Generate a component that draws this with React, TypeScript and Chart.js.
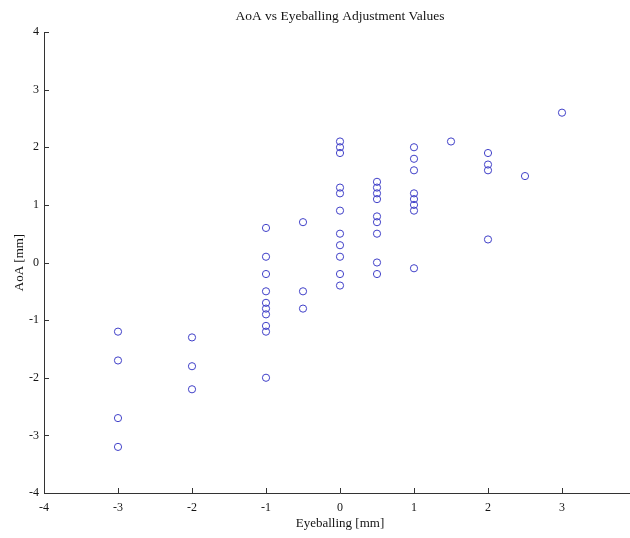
import { useEffect, useRef } from "react";
import { Chart, registerables } from "chart.js";

Chart.register(...registerables);

const chartTitle = "AoA vs Eyeballing Adjustment Values";
const xAxisTitle = "Eyeballing [mm]";
const yAxisTitle = "AoA [mm]";

const axisMin = -4;
const axisMax = 4;
const axisStep = 1;

// Eyeballing adjustment (x) and AoA adjustment (y), one entry per measurement
const eyeballing = [
  -3, -3, -3, -3,
  -2, -2, -2,
  -1, -1, -1, -1, -1, -1, -1, -1, -1, -1,
  -0.5, -0.5, -0.5,
  0, 0, 0, 0, 0, 0, 0, 0, 0, 0, 0,
  0.5, 0.5, 0.5, 0.5, 0.5, 0.5, 0.5, 0.5, 0.5,
  1, 1, 1, 1, 1, 1, 1, 1,
  1.5,
  2, 2, 2, 2,
  2.5,
  3,
];

const aoa = [
  -1.2, -1.7, -2.7, -3.2,
  -1.3, -1.8, -2.2,
  0.6, 0.1, -0.2, -0.5, -0.7, -0.8, -0.9, -1.1, -1.2, -2.0,
  0.7, -0.5, -0.8,
  2.1, 2.0, 1.9, 1.3, 1.2, 0.9, 0.5, 0.3, 0.1, -0.2, -0.4,
  1.4, 1.3, 1.2, 1.1, 0.8, 0.7, 0.5, 0.0, -0.2,
  2.0, 1.8, 1.6, 1.2, 1.1, 1.0, 0.9, -0.1,
  2.1,
  1.9, 1.7, 1.6, 0.4,
  1.5,
  2.6,
];

const FONT = "'Liberation Serif', 'DejaVu Serif', serif";
const AXIS_COLOR = "#333333";
const TEXT_COLOR = "#141414";

const decorations = {
  id: "decorations",
  afterDraw(chart: any) {
    const { ctx, chartArea, scales } = chart;
    const xs = scales.x;
    const ys = scales.y;
    ctx.save();
    ctx.strokeStyle = AXIS_COLOR;
    ctx.lineWidth = 1;
    ctx.beginPath();
    xs.ticks.forEach((t: any) => {
      const px = Math.round(xs.getPixelForValue(t.value)) + 0.5;
      ctx.moveTo(px, chartArea.bottom);
      ctx.lineTo(px, chartArea.bottom - 5);
    });
    ys.ticks.forEach((t: any) => {
      const py = Math.round(ys.getPixelForValue(t.value)) + 0.5;
      ctx.moveTo(chartArea.left, py);
      ctx.lineTo(chartArea.left + 5, py);
    });
    ctx.stroke();
    ctx.fillStyle = TEXT_COLOR;
    ctx.font = `13.5px ${FONT}`;
    ctx.textAlign = "center";
    ctx.textBaseline = "middle";
    ctx.fillText(chartTitle, (chartArea.left + chartArea.right) / 2, 16);
    ctx.restore();
  },
};

export default function App() {
  const ref = useRef<HTMLCanvasElement | null>(null);

  useEffect(() => {
    if (!ref.current) return;
    const points = eyeballing.map((x, i) => ({ x, y: aoa[i] }));
    const chart = new Chart(ref.current, {
      type: "scatter",
      data: {
        datasets: [
          {
            label: "AoA",
            data: points,
            pointStyle: "circle",
            pointRadius: 3.6,
            pointBorderWidth: 1,
            pointBorderColor: "#4040c8",
            pointBackgroundColor: "rgba(0,0,0,0)",
          },
        ],
      },
      options: {
        responsive: false,
        animation: false,
        devicePixelRatio: 1,
        layout: { padding: { top: 32, right: 24, left: 0, bottom: 0 } },
        plugins: {
          legend: { display: false },
          title: { display: false },
          tooltip: { enabled: false },
        },
        scales: {
          x: {
            type: "linear",
            min: axisMin,
            max: axisMax,
            afterFit: (s: any) => {
              s.height = 45;
            },
            ticks: {
              stepSize: axisStep,
              padding: 8,
              color: TEXT_COLOR,
              font: { family: FONT, size: 12 },
            },
            grid: { display: false, drawTicks: false },
            border: { display: true, color: AXIS_COLOR, width: 1 },
            title: {
              display: true,
              text: xAxisTitle,
              color: TEXT_COLOR,
              font: { family: FONT, size: 13 },
              padding: { top: 0, bottom: 7 },
            },
          },
          y: {
            type: "linear",
            min: axisMin,
            max: axisMax,
            afterFit: (s: any) => {
              s.width = 44;
            },
            ticks: {
              stepSize: axisStep,
              padding: 5,
              color: TEXT_COLOR,
              font: { family: FONT, size: 12 },
            },
            grid: { display: false, drawTicks: false },
            border: { display: true, color: AXIS_COLOR, width: 1 },
            title: {
              display: true,
              text: yAxisTitle,
              color: TEXT_COLOR,
              font: { family: FONT, size: 13 },
              padding: { top: 12, bottom: 0 },
            },
          },
        },
      },
      plugins: [decorations],
    });
    return () => chart.destroy();
  }, []);

  return (
    <div
      style={{
        position: "fixed",
        left: 0,
        top: 0,
        width: 630,
        height: 538,
        overflow: "hidden",
        background: "#fff",
      }}
    >
      <canvas ref={ref} width={660} height={538} style={{ display: "block" }} />
    </div>
  );
}
